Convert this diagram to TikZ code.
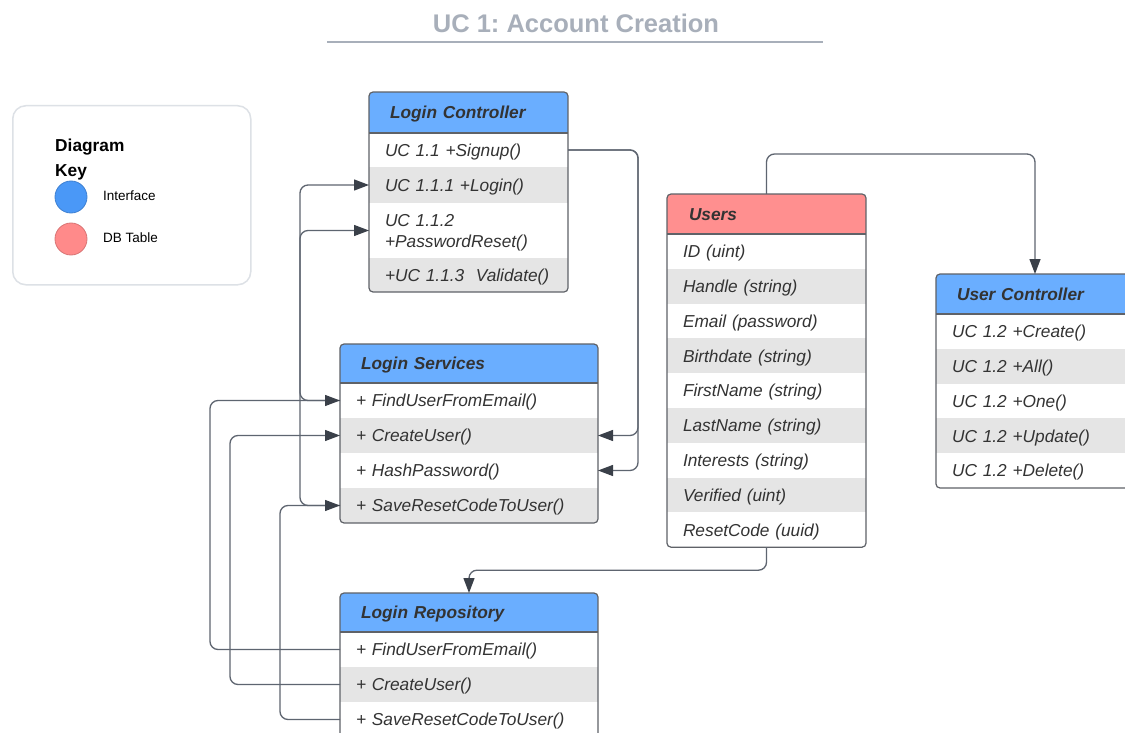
\documentclass[tikz,border=0pt]{standalone}
\usepackage{fontspec}
\setmainfont{Liberation Sans}
\usetikzlibrary{arrows.meta}
\frenchspacing

\definecolor{hblue}{HTML}{6AAEFF}
\definecolor{hred}{HTML}{FF8F8F}
\definecolor{rowgray}{HTML}{E5E5E5}
\definecolor{boxline}{HTML}{5F6268}
\definecolor{wire}{HTML}{5E6570}
\definecolor{tipcol}{HTML}{3A4049}
\definecolor{ink}{HTML}{333333}
\definecolor{titlegray}{HTML}{A8AFBA}
\definecolor{keyline}{HTML}{DDE1E6}
\definecolor{keyblue}{HTML}{4A98F7}
\definecolor{keyred}{HTML}{FF8A8A}

\newcommand\cellfont{\fontsize{17.3}{21.5}\selectfont\itshape}
\newcommand\headfont{\fontsize{17.3}{21.5}\selectfont\bfseries\itshape}

\tikzset{
  basecell/.style={anchor=north west, inner xsep=16pt, inner ysep=0pt, outer sep=0pt, align=left, font=\cellfont, text=ink},
  rowcell/.style={basecell, text height=14pt, text depth=1.4pt},
  hdrcell/.style={anchor=north west, inner xsep=21pt, inner ysep=0pt, outer sep=0pt, align=left, font=\headfont, text=ink,
    text height=14pt, text depth=1.4pt},
  boxframe/.style={draw=boxline, line width=1.2pt, rounded corners=4pt},
  hdrrule/.style={draw=boxline, line width=1.2pt},
  conn/.style={draw=wire, line width=1.3pt, rounded corners=8pt,
    -{Triangle[length=15pt,width=11pt,color=tipcol]}},
  keydot/.style={circle, minimum size=32pt, inner sep=0pt, line width=0.8pt},
  keytext/.style={anchor=west, inner sep=0pt, font=\fontsize{13.5}{16}\selectfont, text=black},
}

\begin{document}
\begin{tikzpicture}[x=1pt, y=-1pt]
\useasboundingbox (0,0) rectangle (1125,733);
\fill[white] (0,0) rectangle (1125,733);

% ---------- title ----------
\node[anchor=base, font=\bfseries\fontsize{25.5}{30}\selectfont, text=titlegray] (title) at (576,33) {UC 1: Account Creation};
\draw[titlegray, line width=2pt] (327,42) -- (823,42);

% ---------- diagram key ----------
\node[draw=keyline, line width=1.5pt, rounded corners=13pt, anchor=north west,
      minimum width=238pt, minimum height=179pt, inner sep=0pt] (key) at (12,105) {};
\node[anchor=base west, inner sep=0pt, font=\bfseries\fontsize{17.3}{21}\selectfont] (keyt1) at (55,152) {Diagram};
\node[anchor=base west, inner sep=0pt, font=\bfseries\fontsize{17.3}{21}\selectfont] (keyt2) at (55,177) {Key};
\node[keydot, fill=keyblue, draw=keyblue!85!black] (kblue) at (71,197) {};
\node[keydot, fill=keyred, draw=keyred!85!black] (kred) at (71,239) {};
\node[keytext] (kif) at (103,196) {Interface};
\node[keytext] (kdb) at (103,238) {DB Table};

% ---------- Login Controller ----------
\begin{scope}
\clip[rounded corners=4pt] (369,92) rectangle (568,292);
\node[hdrcell, fill=hblue, text width=157pt, minimum height=41pt] (lch) at (369,92) {Login Controller};
\node[rowcell, fill=white, text width=167pt, minimum height=34pt] (lc1) at (lch.south west) {UC 1.1 +Signup()};
\node[rowcell, fill=rowgray, text width=167pt, minimum height=36pt] (lc2) at (lc1.south west) {UC 1.1.1 +Login()};
\node[basecell, fill=white, text width=167pt, minimum height=55pt] (lc3) at (lc2.south west) {\rule{0pt}{17pt}UC 1.1.2\\+PasswordReset()};
\node[rowcell, fill=rowgray, text width=167pt, minimum height=34pt] (lc4) at (lc3.south west) {+UC 1.1.3\ \ Validate()};
\end{scope}
\draw[boxframe] (lch.north west) rectangle (lc4.south east);
\draw[hdrrule] (lch.south west) -- (lch.south east);

% ---------- Login Services ----------
\begin{scope}
\clip[rounded corners=4pt] (340,344) rectangle (598,523);
\node[hdrcell, fill=hblue, text width=216pt, minimum height=39pt] (lsh) at (340,344) {Login Services};
\node[rowcell, fill=white, text width=226pt, minimum height=35pt] (ls1) at (lsh.south west) {+ FindUserFromEmail()};
\node[rowcell, fill=rowgray, text width=226pt, minimum height=35pt] (ls2) at (ls1.south west) {+ CreateUser()};
\node[rowcell, fill=white, text width=226pt, minimum height=35pt] (ls3) at (ls2.south west) {+ HashPassword()};
\node[rowcell, fill=rowgray, text width=226pt, minimum height=35pt] (ls4) at (ls3.south west) {+ SaveResetCodeToUser()};
\end{scope}
\draw[boxframe] (lsh.north west) rectangle (ls4.south east);
\draw[hdrrule] (lsh.south west) -- (lsh.south east);

% ---------- Login Repository ----------
\begin{scope}
\clip[rounded corners=4pt] (340,593) rectangle (598,737);
\node[hdrcell, fill=hblue, text width=216pt, minimum height=39pt] (lrh) at (340,593) {Login Repository};
\node[rowcell, fill=white, text width=226pt, minimum height=35pt] (lr1) at (lrh.south west) {+ FindUserFromEmail()};
\node[rowcell, fill=rowgray, text width=226pt, minimum height=35pt] (lr2) at (lr1.south west) {+ CreateUser()};
\node[rowcell, fill=white, text width=226pt, minimum height=35pt] (lr3) at (lr2.south west) {+ SaveResetCodeToUser()};
\end{scope}
\draw[boxframe] (lrh.north west) rectangle (lr3.south east);
\draw[hdrrule] (lrh.south west) -- (lrh.south east);

% ---------- Users table ----------
\begin{scope}
\clip[rounded corners=4pt] (667,194) rectangle (866,547.2);
\node[hdrcell, fill=hred, inner xsep=22pt, text width=155pt, minimum height=40pt] (uh) at (667,194) {Users};
\node[rowcell, fill=white, text width=167pt, minimum height=34.8pt] (u1) at (uh.south west) {ID (uint)};
\node[rowcell, fill=rowgray, text width=167pt, minimum height=34.8pt] (u2) at (u1.south west) {Handle (string)};
\node[rowcell, fill=white, text width=167pt, minimum height=34.8pt] (u3) at (u2.south west) {Email (password)};
\node[rowcell, fill=rowgray, text width=167pt, minimum height=34.8pt] (u4) at (u3.south west) {Birthdate (string)};
\node[rowcell, fill=white, text width=167pt, minimum height=34.8pt] (u5) at (u4.south west) {FirstName (string)};
\node[rowcell, fill=rowgray, text width=167pt, minimum height=34.8pt] (u6) at (u5.south west) {LastName (string)};
\node[rowcell, fill=white, text width=167pt, minimum height=34.8pt] (u7) at (u6.south west) {Interests (string)};
\node[rowcell, fill=rowgray, text width=167pt, minimum height=34.8pt] (u8) at (u7.south west) {Verified (uint)};
\node[rowcell, fill=white, text width=167pt, minimum height=34.8pt] (u9) at (u8.south west) {ResetCode (uuid)};
\end{scope}
\draw[boxframe] (uh.north west) rectangle (u9.south east);
\draw[hdrrule] (uh.south west) -- (uh.south east);

% ---------- User Controller ----------
\begin{scope}
\clip[rounded corners=4pt] (936,274) rectangle (1134,488);
\node[hdrcell, fill=hblue, text width=156pt, minimum height=40pt] (uch) at (936,274) {User Controller};
\node[rowcell, fill=white, text width=166pt, minimum height=34.8pt] (uc1) at (uch.south west) {UC 1.2 +Create()};
\node[rowcell, fill=rowgray, text width=166pt, minimum height=34.8pt] (uc2) at (uc1.south west) {UC 1.2 +All()};
\node[rowcell, fill=white, text width=166pt, minimum height=34.8pt] (uc3) at (uc2.south west) {UC 1.2 +One()};
\node[rowcell, fill=rowgray, text width=166pt, minimum height=34.8pt] (uc4) at (uc3.south west) {UC 1.2 +Update()};
\node[rowcell, fill=white, text width=166pt, minimum height=34.8pt] (uc5) at (uc4.south west) {UC 1.2 +Delete()};
\end{scope}
\draw[boxframe] (uch.north west) rectangle (uc5.south east);
\draw[hdrrule] (uch.south west) -- (uch.south east);

% ---------- connectors ----------
% controller -> services (right side)
\draw[conn] (lc1.east) -- ++(70,0) |- (ls2.east);
\draw[conn] (lc1.east) -- ++(70,0) |- (ls3.east);
% services -> controller (left side)
\draw[conn] (ls1.west) -- ++(-40,0) |- (lc2.west);
\draw[conn] (ls4.west) -- ++(-40,0) |- (lc3.west);
% repository -> services
\draw[conn] (lr1.west) -- ++(-130,0) |- (ls1.west);
\draw[conn] (lr2.west) -- ++(-110,0) |- (ls2.west);
\draw[conn] (lr3.west) -- ++(-60,0) |- (ls4.west);
% users table links
\draw[conn] (uh.north) -- ++(0,-40) -| (uch.north);
\draw[conn] (u9.south) -- ++(0,23) -| (lrh.north);
\end{tikzpicture}
\end{document}
